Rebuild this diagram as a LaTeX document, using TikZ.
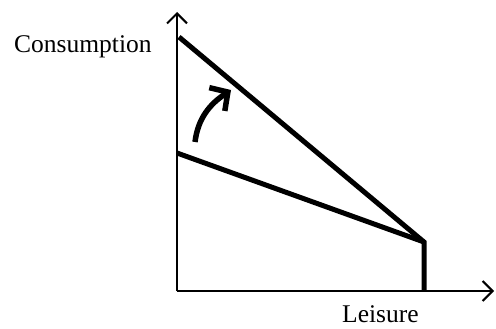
\documentclass[tikz,border=0pt]{standalone}
\usepackage{fontspec}
\setmainfont{Liberation Serif}
\usetikzlibrary{arrows.meta}
\begin{document}
\begin{tikzpicture}[x=1pt,y=1pt,
  axis/.style={line width=2pt,-{Straight Barb[length=10pt,width=20pt,line width=2pt]}},
  budget/.style={line width=5pt,line join=miter},
  shiftarrow/.style={line width=5.5pt,-{Straight Barb[length=13pt,width=28pt,line width=5.5pt]}},
  lbl/.style={inner sep=0pt,anchor=base west,text depth=0pt,font=\fontsize{25.5}{30}\selectfont}]
\useasboundingbox (0,0) rectangle (496,-329);
\coordinate (O) at (177,-291);
\coordinate (ytop) at (177,-12);
\coordinate (xend) at (494,-291);
\coordinate (A) at (179,-37);
\coordinate (B) at (177,-153);
\coordinate (K) at (424,-242);
\coordinate (Kb) at (424,-291);
\coordinate (S) at (195,-142);
\coordinate (E) at (231,-90);
\draw[axis] (O) -- (ytop);
\draw[axis] (O) -- (xend);
\draw[budget] (A) -- (K) -- (Kb);
\draw[budget] (B) -- (K);
\draw[shiftarrow] (S) .. controls (198,-118) and (210,-104) .. (E);
\node[lbl] (cons) at (14,-52.7) {Consumption};
\node[lbl] (leis) at (342,-322) {Leisure};
\end{tikzpicture}
\end{document}
